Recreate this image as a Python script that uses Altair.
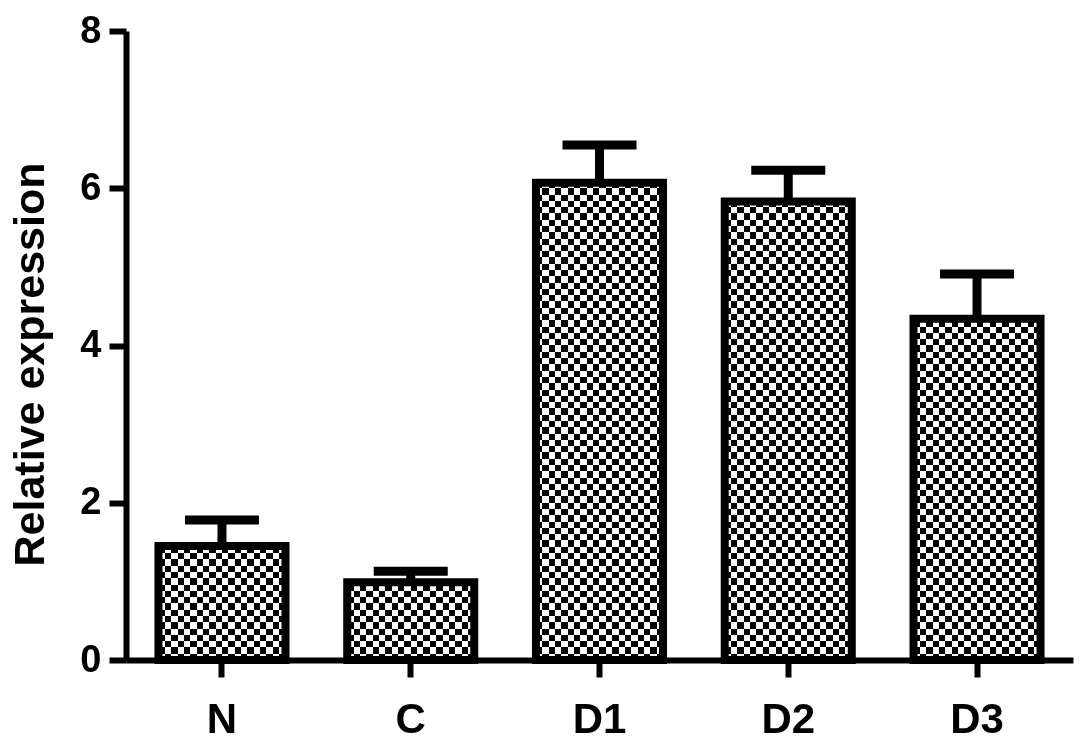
import altair as alt
import pandas as pd

# Data
categories = ["N", "C", "D1", "D2", "D3"]
means = [1.45, 0.99, 6.07, 5.83, 4.34]
errors = [0.33, 0.14, 0.48, 0.40, 0.57]
y_ticks = [0, 2, 4, 6, 8]
y_max = 8

df = pd.DataFrame({"cat": categories, "mean": means, "err": errors})
df["upper"] = df["mean"] + df["err"]

FONT = "Liberation Sans"


def stripes(n, horizontal):
    stops = []
    for i in range(n):
        c = "#000000" if i % 2 == 0 else "#ffffff"
        stops.append({"offset": i / n, "color": c})
        stops.append({"offset": (i + 1) / n, "color": c})
    g = {"gradient": "linear", "stops": stops, "x1": 0, "y1": 0}
    if horizontal:
        g.update({"x2": 0, "y2": 1})
    else:
        g.update({"x2": 1, "y2": 0})
    return g


x_enc = alt.X(
    "cat:N",
    sort=categories,
    scale=alt.Scale(paddingInner=0.327, paddingOuter=0.172),
    axis=alt.Axis(
        title=None,
        labelAngle=0,
        labelFont=FONT,
        labelFontSize=42,
        labelFontWeight="bold",
        labelColor="black",
        labelPadding=22,
        domainColor="black",
        domainWidth=6,
        tickColor="black",
        tickWidth=6,
        tickSize=17,
        zindex=2,
    ),
)

y_axis = alt.Axis(
    values=y_ticks,
    grid=False,
    title="Relative expression",
    titleFont=FONT,
    titleFontSize=43,
    titleFontWeight="bold",
    titleColor="black",
    titleAngle=270,
    titleAlign="center",
    titleBaseline="alphabetic",
    titleX=-83,
    titleY=333,
    labelFont=FONT,
    labelFontSize=38,
    labelFontWeight="bold",
    labelColor="black",
    labelPadding=8,
    domainColor="black",
    domainWidth=6,
    tickColor="black",
    tickWidth=6,
    tickSize=17,
    zindex=2,
)
y_scale = alt.Scale(domain=[0, y_max], nice=False)

base = alt.Chart(df)

# horizontal stripes over the full column
layer_a = base.mark_bar(fill=stripes(100, True), strokeWidth=0).encode(
    x=x_enc,
    y=alt.Y(datum=y_max, type="quantitative", scale=y_scale, axis=y_axis),
)
# white cover above each bar (white stroke hides antialiased edges)
layer_b = base.mark_bar(fill="white", stroke="white", strokeWidth=3).encode(
    x=x_enc,
    y=alt.Y("mean:Q", scale=y_scale, axis=y_axis),
    y2=alt.datum(y_max),
)
# vertical stripes, difference blend -> checkerboard
layer_c = base.mark_bar(fill=stripes(20, False), strokeWidth=0, blend="difference").encode(
    x=x_enc,
    y=alt.Y("mean:Q", scale=y_scale, axis=y_axis),
)
# outline
layer_d = base.mark_bar(fillOpacity=0, stroke="black", strokeWidth=8).encode(
    x=x_enc,
    y=alt.Y("mean:Q", scale=y_scale, axis=y_axis),
)
stem = base.mark_rule(color="black", strokeWidth=9).encode(
    x=x_enc,
    y=alt.Y("mean:Q", scale=y_scale, axis=y_axis),
    y2="upper:Q",
)
cap = base.mark_tick(color="black", size=74, thickness=9, opacity=1).encode(
    x=x_enc,
    y=alt.Y("upper:Q", scale=y_scale, axis=y_axis),
)

chart = (
    alt.layer(layer_a, layer_b, layer_c, layer_d, stem, cap)
    .properties(
        width=947,
        height=629,
        autosize=alt.AutoSizeParams(type="none"),
        padding={"left": 118, "top": 23, "right": 4, "bottom": 74},
        background="white",
    )
    .configure_view(stroke=None)
)

chart.save("out.html", embed_options={"renderer": "svg", "actions": False})
